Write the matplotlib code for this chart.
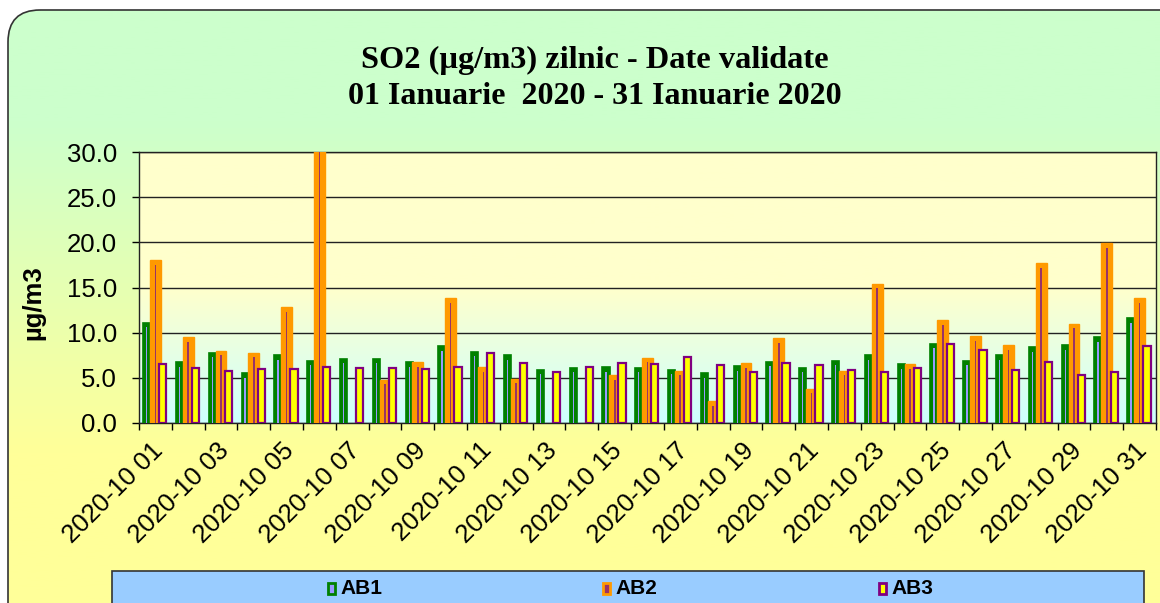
import numpy as np
import matplotlib.pyplot as plt
import matplotlib.transforms as mtransforms
from matplotlib.colors import LinearSegmentedColormap
from matplotlib.patches import FancyBboxPatch, Rectangle

plt.rcParams['font.family'] = ['Liberation Sans', 'DejaVu Sans']

# date validate SO2
zile = ['2020-10 %02d' % d for d in range(1, 32)]
ab1 = [11.1, 6.7, 7.8, 5.5, 7.5, 6.9, 7.1, 7.1, 6.7, 8.5, 7.9, 7.5, 5.9, 6.1, 6.2, 6.1,
       5.9, 5.5, 6.3, 6.8, 6.1, 6.9, 7.5, 6.5, 8.8, 6.9, 7.5, 8.4, 8.6, 9.5, 11.6]
ab2 = [18.0, 9.5, 8.0, 7.8, 12.8, 31.0, np.nan, 4.8, 6.7, 13.8, 6.2, 4.9, np.nan, np.nan, 5.3, 7.2,
       5.8, 2.4, 6.6, 9.4, 3.8, 5.8, 15.4, 6.5, 11.4, 9.6, 8.6, 17.7, 11.0, 19.9, 13.8]
ab3 = [6.5, 6.1, 5.8, 6.0, 6.0, 6.2, 6.1, 6.1, 6.0, 6.2, 7.7, 6.6, 5.6, 6.2, 6.6, 6.5,
       7.3, 6.4, 5.6, 6.6, 6.4, 5.9, 5.7, 6.1, 8.7, 8.1, 5.9, 6.8, 5.3, 5.6, 8.5]
serii = ['AB1', 'AB2', 'AB3']

ab1 = np.array(ab1)
ab2 = np.array(ab2)
ab3 = np.array(ab3)

W, H = 1160, 603
fig = plt.figure(figsize=(W / 100, H / 100), dpi=100)
fig.patch.set_facecolor('white')

# --- fundal (chenar rotunjit cu gradient)
bg = fig.add_axes([0, 0, 1, 1], zorder=-10)
bg.set_xlim(0, W)
bg.set_ylim(H, 0)
bg.axis('off')
cmap_bg = LinearSegmentedColormap.from_list(
    'bg', [(0, '#CCFFCC'), (0.2, '#CCFFCC'), (0.75, '#FFFF99'), (1, '#FFFF99')])
grad = np.linspace(0, 1, 256).reshape(-1, 1)
im = bg.imshow(grad, cmap=cmap_bg, extent=(0, W, H, 0), aspect='auto')
box = FancyBboxPatch((8, 10), 1250, 700, boxstyle='round,pad=0,rounding_size=32',
                     fc='none', ec='#333333', lw=1.2)
bg.add_patch(box)
im.set_clip_path(box)

# legenda
bg.add_patch(Rectangle((112, 571), 1032, 60, fc='#99CCFF', ec='#333333', lw=1.2))
leg_x = [328, 603, 879]
leg_face = ['#9999FF', '#993366', '#FFFF00']
leg_edge = ['#008000', '#FF9900', '#800080']
for lx, fc, ec, nume in zip(leg_x, leg_face, leg_edge, serii):
    bg.add_patch(Rectangle((lx, 583), 7, 11, fc=fc, ec=ec, lw=2))
    bg.text(lx + 12, 589, nume, fontsize=15, fontweight='bold', va='center', ha='left')

# titlu
fig.text(595 / W, 1 - 60 / H, 'SO2 (µg/m3) zilnic - Date validate', ha='center', va='center',
         fontsize=23.3, fontweight='bold', family=['Liberation Serif', 'DejaVu Serif'])
fig.text(595 / W, 1 - 97 / H, '01 Ianuarie  2020 - 31 Ianuarie 2020', ha='center', va='center',
         fontsize=23, fontweight='bold', family=['Liberation Serif', 'DejaVu Serif'])

# --- grafic
ax = fig.add_axes([139 / W, 1 - 423 / H, 1017 / W, 271 / H])
ax.set_facecolor('none')
cmap_ax = LinearSegmentedColormap.from_list('ax', ['#FFFFCC', '#FFFFCC', '#CCFFFF'])
ax.imshow(grad, cmap=cmap_ax, extent=(-0.5, 30.5, 0, 30), aspect='auto', zorder=0)

x = np.arange(len(zile))
ax.bar(x - 0.265, ab1, width=0.22, color='#008000', edgecolor='#008000', lw=1.2, zorder=3)
ax.bar(x - 0.265, np.clip(ab1 - 0.5, 0, None), width=0.04, color='#9999FF', zorder=3)
ax.bar(x, ab2, width=0.33, color='#FF9900', edgecolor='#FF9900', lw=1, zorder=4)
ax.bar(x, np.clip(ab2 - 0.5, 0, None), width=0.05, color='#993366', zorder=4)
ax.bar(x + 0.225, ab3, width=0.22, color='#FFFF00', edgecolor='#800080', lw=1.6, zorder=5)

ax.set_xlim(-0.5, 30.5)
ax.set_ylim(0, 30)
ax.set_axisbelow(True)
ax.yaxis.grid(True, color='#222222', lw=1)

ax.set_yticks(np.arange(0, 31, 5))
ax.set_yticklabels(['%.1f' % v for v in np.arange(0, 31, 5)])
ax.tick_params(axis='y', labelsize=18.5, length=5, width=1, pad=11, direction='out')

ax.set_xticks(np.arange(-0.5, 31, 1))
ax.set_xticklabels([])
ax.tick_params(axis='x', which='major', length=5, width=1, direction='out')
ax.set_xticks(x[::2], labels=zile[::2], minor=True)
ax.tick_params(axis='x', which='minor', length=0, labelsize=18.5, pad=17)
deplasare = mtransforms.ScaledTranslation(4 / 100, 0, fig.dpi_scale_trans)
for lbl in ax.get_xticklabels(minor=True):
    lbl.set_rotation(45)
    lbl.set_ha('right')
    lbl.set_va('center')
    lbl.set_rotation_mode('anchor')
    lbl.set_transform(lbl.get_transform() + deplasare)

ax.set_ylabel('µg/m3', fontsize=18.5, fontweight='bold')
ax.yaxis.set_label_coords(-0.0924, 0.443)

for s in ax.spines.values():
    s.set_color('#222222')
    s.set_linewidth(1)

plt.savefig('out.png', dpi=100, facecolor='white')
